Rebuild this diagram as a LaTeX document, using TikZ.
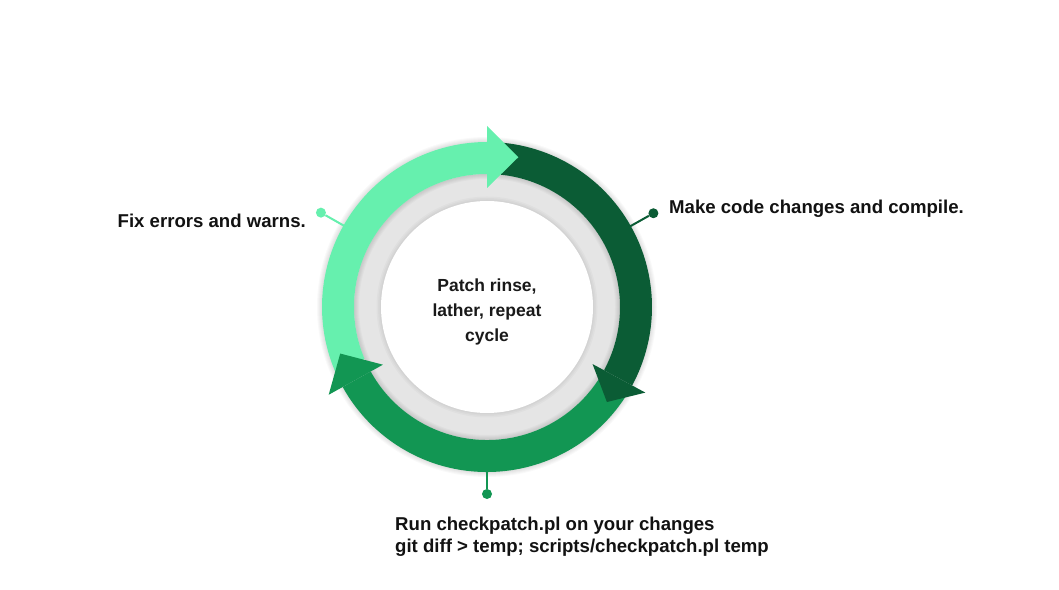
\documentclass[tikz,border=0pt]{standalone}
\usepackage{fontspec}
\setmainfont{Liberation Sans}
\begin{document}
\begin{tikzpicture}[x=1pt,y=1pt,
  lbl/.style={inner sep=0pt, font=\fontsize{18.6}{22.7}\selectfont\bfseries, text=black!93},
  hub/.style={inner sep=0pt, align=center, font=\fontsize{17.5}{25}\selectfont\bfseries, text=black!90},
  pin/.style={circle, inner sep=0pt, minimum size=10pt},
  leader/.style={line width=2pt}]
\definecolor{lightg}{HTML}{66F0AE}
\definecolor{darkg}{HTML}{0B5C35}
\definecolor{medg}{HTML}{129653}
\definecolor{ringgray}{HTML}{E5E5E5}
\useasboundingbox[fill=white] (0,0) rectangle (1059,589);

\begin{scope}[shift={(487,282)}]
  % grey disc with a soft halo round the white core
  \fill[ringgray] (0,0) circle (133);
  \foreach \k in {1,...,3}
    \fill[black, opacity=0.025] (0,0) circle ({106+1.5*\k});
  \fill[white] (0,0) circle (106);

  % soft shadow under the ring
  \foreach \k in {1,...,5}
    \draw[black, opacity=0.022, line width={32+2*\k}] (0,0) circle (149);

  % the three ring segments
  \fill[lightg] (203:165) arc[start angle=203, end angle=90, radius=165]
    -- (90:133) arc[start angle=90, end angle=203, radius=133] -- cycle;
  \fill[darkg] (84:165) arc[start angle=84, end angle=-28.4, radius=165]
    -- (-28.4:133) arc[start angle=-28.4, end angle=84, radius=133] -- cycle;
  \fill[medg] (-33:165) arc[start angle=-33, end angle=-151, radius=165]
    -- (-151:133) arc[start angle=-151, end angle=-33, radius=133] -- cycle;

  % arrow heads
  \fill[lightg] (90:181) -- (78.2:153) -- (90:119) -- cycle;
  \fill[darkg] (-28.4:180) -- (-38.4:153) -- (-28.4:120) -- cycle;
  \fill[medg] (209:181) -- (197.6:154) -- (209:119) -- cycle;

  % leader pins
  \coordinate (r1) at (150.4:164);
  \coordinate (r2) at (29.4:164);
  \coordinate (r3) at (-90:164);
  \node[pin, fill=lightg] (p1) at (150.4:191) {};
  \node[pin, fill=darkg] (p2) at (29.4:191) {};
  \node[pin, fill=medg] (p3) at (-90:187) {};
  \draw[leader, lightg] (r1) -- (p1);
  \draw[leader, darkg] (r2) -- (p2);
  \draw[leader, medg] (r3) -- (p3);

  \node[hub] (hubtext) at (0,-5) {Patch rinse,\\lather, repeat\\cycle};
\end{scope}

\node[lbl, anchor=base west] (fix) at (117.5,361.7) {Fix errors and warns.};
\node[lbl, anchor=base west] (make) at (669,375.7) {Make code changes and compile.};
\node[lbl, anchor=base west] (run) at (395,59) {Run checkpatch.pl on your changes};
\node[lbl, anchor=base west] (cmd) at (395,36.3) {git diff > temp; scripts/checkpatch.pl temp};
\end{tikzpicture}
\end{document}
